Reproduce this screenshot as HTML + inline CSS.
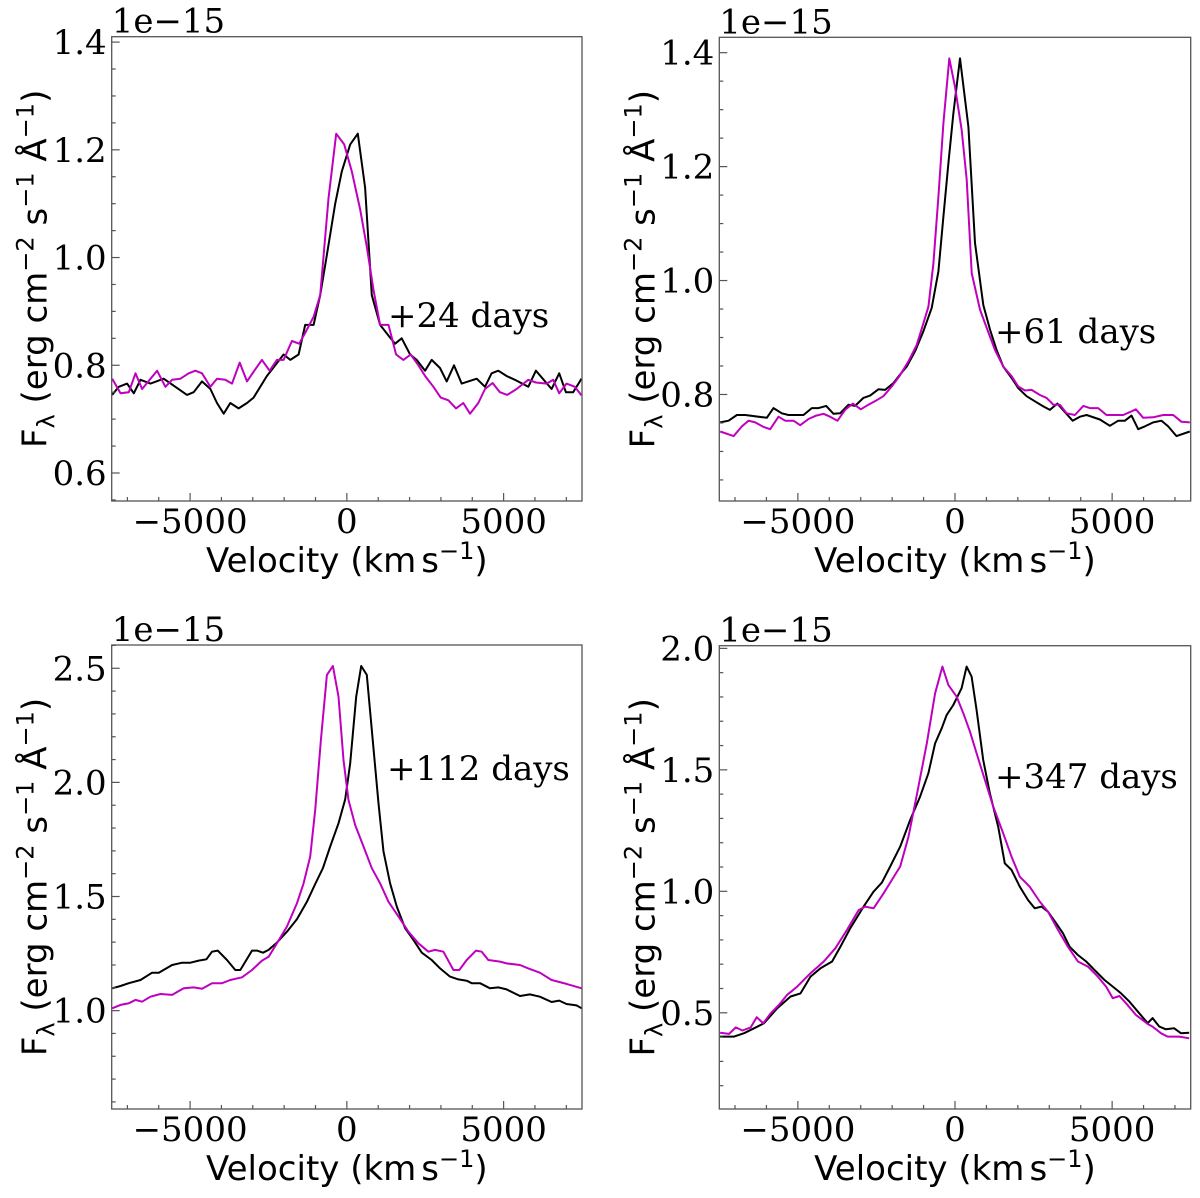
<!DOCTYPE html>
<html><head><meta charset="utf-8">
<style>
html,body{margin:0;padding:0;background:#fff;}
svg{display:block;}
.tick{font-family:"DejaVu Serif","Liberation Serif",serif;font-size:34px;fill:#000;}
.lab{font-family:"DejaVu Sans","Liberation Sans",sans-serif;font-size:34px;fill:#000;}
.ann{font-family:"DejaVu Serif","Liberation Serif",serif;font-size:34px;fill:#000;}
</style></head>
<body>
<svg id="fig" width="1200" height="1198" viewBox="0 0 1200 1198" xmlns="http://www.w3.org/2000/svg"></svg>
<script>
// ---- Panel 1 (+24 days) ----
const p1BlackV=[-7485,-7273,-7008,-6795,-6583,-6264,-5840,-5097,-4884,-4619,-4353,-4141,-3929,-3716,-3451,-3186,-2973,-2549,-2018,-1805,-1540,-1328,-1062,-850,-637,-372,-160,106,350,583,796,1061,1327,1539,1751,2017,2229,2495,2707,2972,3185,3418,3662,4140,4406,4618,4830,5096,5361,5786,6030,6529,6773,6985,7219,7485];
const p1BlackF=[0.745,0.76,0.766,0.748,0.773,0.766,0.775,0.745,0.75,0.77,0.756,0.73,0.71,0.73,0.72,0.73,0.74,0.78,0.82,0.81,0.82,0.875,0.875,0.93,1.005,1.1,1.16,1.21,1.23,1.13,0.93,0.875,0.855,0.84,0.85,0.82,0.81,0.79,0.81,0.795,0.77,0.80,0.766,0.775,0.76,0.785,0.79,0.78,0.773,0.76,0.79,0.756,0.785,0.75,0.75,0.775];
const p1MagV=[-7485,-7220,-6955,-6742,-6530,-6052,-5787,-5574,-5309,-5043,-4831,-4619,-4353,-4141,-3876,-3663,-3419,-3186,-2952,-2708,-2464,-2230,-2018,-1752,-1519,-1328,-1062,-850,-584,-340,-86,159,424,637,849,1061,1327,1571,1804,2038,2282,2495,2760,2994,3238,3482,3715,3928,4193,4406,4650,4883,5117,5414,5786,6030,6370,6582,6773,7007,7272,7485];
const p1MagF=[0.775,0.748,0.75,0.785,0.756,0.79,0.76,0.773,0.775,0.785,0.79,0.785,0.76,0.775,0.773,0.766,0.805,0.77,0.79,0.81,0.79,0.81,0.81,0.845,0.84,0.86,0.89,0.93,1.11,1.23,1.21,1.16,1.09,1.02,0.94,0.875,0.875,0.82,0.81,0.82,0.80,0.78,0.76,0.74,0.735,0.72,0.73,0.71,0.73,0.756,0.767,0.75,0.745,0.756,0.773,0.768,0.766,0.773,0.748,0.766,0.76,0.744];
// ---- Panel 2 (+61 days) ----
const p2BlackV=[-7470,-7205,-6940,-6675,-5987,-5775,-5510,-5298,-4821,-4556,-4344,-4100,-3867,-3655,-3390,-3178,-2914,-2702,-2437,-2225,-1960,-1748,-1536,-1271,-1006,-741,-529,-370,-211,-52,160,425,637,902,1113,1325,1537,1802,2014,2279,2544,2809,3021,3254,3498,3741,3975,4187,4610,4928,5193,5405,5617,5829,6041,6306,6571,6783,7048,7472];
const p2BlackF=[0.751,0.754,0.764,0.764,0.759,0.776,0.767,0.764,0.764,0.776,0.776,0.780,0.766,0.767,0.782,0.780,0.794,0.798,0.809,0.808,0.820,0.835,0.849,0.876,0.911,0.952,1.016,1.112,1.206,1.294,1.390,1.270,1.066,0.957,0.914,0.878,0.849,0.829,0.811,0.797,0.788,0.779,0.773,0.784,0.769,0.754,0.761,0.764,0.756,0.745,0.754,0.754,0.763,0.739,0.744,0.751,0.754,0.744,0.727,0.735];
const p2MagV=[-7470,-7046,-6781,-6570,-6357,-6093,-5881,-5616,-5404,-5139,-4927,-4662,-4418,-4185,-3973,-3740,-3496,-3253,-2998,-2755,-2490,-2278,-2013,-1769,-1483,-1218,-1006,-847,-688,-529,-370,-180,0,213,372,531,796,1029,1272,1537,1802,2014,2226,2438,2703,2915,3127,3339,3551,3816,4081,4292,4557,4822,5034,5352,5564,5755,5988,6306,6624,6942,7207,7472];
const p2MagF=[0.735,0.727,0.744,0.754,0.751,0.743,0.739,0.761,0.754,0.754,0.746,0.757,0.763,0.766,0.761,0.754,0.773,0.784,0.774,0.782,0.790,0.797,0.814,0.832,0.858,0.887,0.925,0.954,1.030,1.147,1.276,1.390,1.340,1.264,1.177,1.013,0.949,0.914,0.878,0.849,0.832,0.814,0.807,0.808,0.799,0.794,0.782,0.782,0.767,0.764,0.780,0.776,0.776,0.764,0.764,0.764,0.769,0.774,0.759,0.760,0.764,0.764,0.752,0.751];
// ---- Panel 3 (+112 days) ----
const p3BlackV=[-7485,-7220,-6954,-6583,-6211,-5999,-5574,-5255,-4990,-4725,-4480,-4300,-4119,-3822,-3557,-3397,-3026,-2867,-2675,-2495,-2230,-1911,-1593,-1274,-1009,-764,-531,-265,-53,106,297,457,637,796,1009,1168,1380,1593,1858,2123,2389,2707,2973,3291,3557,3822,3981,4247,4565,4831,5096,5521,5839,6158,6529,6774,7007,7326,7490];
const p3BlackF=[1.098,1.108,1.120,1.134,1.166,1.166,1.200,1.210,1.210,1.219,1.225,1.258,1.263,1.222,1.178,1.178,1.263,1.263,1.254,1.266,1.298,1.346,1.400,1.477,1.555,1.624,1.719,1.821,1.926,2.084,2.376,2.510,2.471,2.230,1.908,1.697,1.558,1.456,1.361,1.310,1.254,1.222,1.185,1.149,1.137,1.131,1.120,1.120,1.098,1.102,1.093,1.064,1.071,1.061,1.038,1.044,1.029,1.023,1.010];
const p3MagV=[-7485,-7220,-6954,-6742,-6530,-6264,-5946,-5574,-5202,-4884,-4618,-4300,-3981,-3716,-3344,-3026,-2707,-2495,-2230,-1911,-1593,-1380,-1168,-1009,-828,-637,-446,-265,-106,53,265,531,796,1062,1327,1646,1964,2283,2601,2814,3079,3397,3588,3822,4119,4300,4512,4884,5096,5521,5786,6158,6529,7007,7490];
const p3MagF=[1.010,1.025,1.032,1.047,1.039,1.061,1.073,1.069,1.098,1.102,1.096,1.120,1.120,1.134,1.146,1.178,1.219,1.236,1.295,1.368,1.470,1.558,1.675,1.879,2.186,2.471,2.510,2.376,2.098,1.923,1.813,1.719,1.624,1.558,1.477,1.412,1.346,1.295,1.258,1.266,1.258,1.178,1.178,1.222,1.263,1.258,1.222,1.215,1.207,1.200,1.185,1.166,1.134,1.117,1.098];
// ---- Panel 4 (+347 days) ----
const p4BlackV=[-7473,-7029,-6712,-6395,-6078,-5655,-5232,-4915,-4598,-4281,-3911,-3647,-3330,-2907,-2590,-2325,-2061,-1744,-1427,-1110,-846,-634,-423,-264,-53,211,370,529,687,898,1110,1374,1585,1797,2061,2325,2537,2748,2960,3224,3435,3647,3911,4175,4439,4757,5021,5285,5549,5866,6131,6289,6500,6712,6976,7188,7452];
const p4BlackF=[0.402,0.402,0.416,0.436,0.457,0.519,0.567,0.580,0.649,0.683,0.711,0.772,0.848,0.937,0.999,1.036,1.102,1.184,1.294,1.390,1.486,1.609,1.671,1.726,1.767,1.836,1.925,1.884,1.746,1.541,1.403,1.266,1.115,1.088,1.019,0.964,0.930,0.937,0.916,0.868,0.827,0.772,0.738,0.711,0.676,0.635,0.608,0.580,0.546,0.498,0.457,0.478,0.443,0.432,0.436,0.416,0.418];
const p4MagV=[-7473,-7188,-6976,-6765,-6501,-6310,-6099,-5866,-5602,-5338,-5021,-4598,-4175,-3805,-3435,-3065,-2854,-2590,-2273,-2008,-1744,-1480,-1216,-898,-634,-402,-211,53,264,476,687,951,1216,1533,1797,2061,2378,2695,2960,3277,3594,3911,4228,4545,4809,5021,5232,5444,5761,6131,6289,6553,6765,7135,7452];
const p4MagF=[0.418,0.413,0.440,0.427,0.440,0.482,0.457,0.498,0.532,0.574,0.608,0.663,0.711,0.766,0.841,0.923,0.937,0.930,0.992,1.047,1.102,1.225,1.397,1.609,1.815,1.925,1.849,1.801,1.733,1.657,1.568,1.458,1.349,1.239,1.143,1.060,1.019,0.958,0.916,0.841,0.772,0.711,0.690,0.649,0.608,0.560,0.569,0.539,0.491,0.454,0.443,0.416,0.402,0.402,0.395];
// tick labels
const xTicks=[-5000,0,5000];
const p1YTicks=[0.6,0.8,1.0,1.2,1.4];
const p2YTicks=[0.8,1.0,1.2,1.4];
const p3YTicks=[1.0,1.5,2.0,2.5];
const p4YTicks=[0.5,1.0,1.5,2.0];
const labels=["+24 days","+61 days","+112 days","+347 days"];

const NS="http://www.w3.org/2000/svg";
const svg=document.getElementById('fig');
function mk(tag,attrs,parent){const e=document.createElementNS(NS,tag);for(const k in attrs)e.setAttribute(k,attrs[k]);(parent||svg).appendChild(e);return e;}

const panels=[
 {box:[111.7,36.7,582,501],y:[0.548,1.41],yt:p1YTicks,minor:0.05,series:[[p1BlackV,p1BlackF],[p1MagV,p1MagF]],lab:labels[0],lx:388,ly:327,name:'panel-24-days'},
 {box:[719.3,37.3,1190.7,501],y:[0.613,1.427],yt:p2YTicks,minor:0.05,series:[[p2BlackV,p2BlackF],[p2MagV,p2MagF]],lab:labels[1],lx:995,ly:343,name:'panel-61-days'},
 {box:[111.7,645,582,1109],y:[0.569,2.602],yt:p3YTicks,minor:0.1,series:[[p3BlackV,p3BlackF],[p3MagV,p3MagF]],lab:labels[2],lx:387,ly:780,name:'panel-112-days'},
 {box:[719.3,645.7,1190.7,1109],y:[0.104,2.011],yt:p4YTicks,minor:0.1,series:[[p4BlackV,p4BlackF],[p4MagV,p4MagF]],lab:labels[3],lx:995,ly:788,name:'panel-347-days'}
];
const colors=['#000000','#bf00bf'];

panels.forEach((p,pi)=>{
 const [L,T,R,B]=p.box;
 const g=mk('g',{});
 
 
 const sx=v=>L+(v+7500)/15000*(R-L);
 const sy=f=>B-(f-p.y[0])/(p.y[1]-p.y[0])*(B-T);
 const cid='clip'+pi;
 const cp=mk('clipPath',{id:cid},g);mk('rect',{x:L,y:T,width:R-L,height:B-T},cp);
 p.series.forEach((s,si)=>{
  const d=s[0].map((v,i)=>(i?'L':'M')+sx(v).toFixed(1)+' '+sy(s[1][i]).toFixed(1)).join(' ');
  const path=mk('path',{d:d,fill:'none',stroke:colors[si],'stroke-width':2,'stroke-linejoin':'round','clip-path':'url(#'+cid+')'},g);
  
  
 });
 const frame=mk('rect',{x:L,y:T,width:R-L,height:B-T,fill:'none',stroke:'#555','stroke-width':1.3},g);
 
 
 for(let v=-7000;v<=7000;v+=1000){
  const major=v%5000===0;
  mk('line',{x1:sx(v),x2:sx(v),y1:B,y2:B-(major?8:4),stroke:'#555','stroke-width':1.2},g);
 }
 xTicks.forEach(v=>{
  const t=mk('text',{x:sx(v),y:B+32,'text-anchor':'middle',class:'tick'},g);
  t.textContent=(v<0?'\u2212':'')+Math.abs(v);
  
  
 });
 const n0=Math.ceil(p.y[0]/p.minor-1e-6),n1=Math.floor(p.y[1]/p.minor+1e-6);
 for(let n=n0;n<=n1;n++){
  const f=n*p.minor;
  const major=p.yt.some(t=>Math.abs(t-f)<1e-6);
  mk('line',{x1:L,x2:L+(major?8:4),y1:sy(f),y2:sy(f),stroke:'#555','stroke-width':1.2},g);
 }
 p.yt.forEach(f=>{
  const t=mk('text',{x:L-5,y:sy(f)+12,'text-anchor':'end',class:'tick'},g);
  t.textContent=f.toFixed(1);
  
  
 });
 const off=mk('text',{x:L,y:T-4,class:'tick'},g);
 off.textContent='1e\u221215';
 
 
 const xl=mk('text',{x:(L+R)/2,y:B+71,'text-anchor':'middle',class:'lab'},g);
 xl.innerHTML='Velocity (km<tspan dx="5">s</tspan><tspan dy="-13" font-size="24">\u22121</tspan><tspan dy="13">)</tspan>';
 
 
 const cx=L-65,cy=(T+B)/2;
 const yl=mk('text',{x:cx,y:cy,'text-anchor':'middle',class:'lab',transform:'rotate(-90 '+cx+' '+cy+')'},g);
 yl.innerHTML='F<tspan dy="8" font-size="24">\u03bb</tspan><tspan dy="-8"> (erg cm</tspan><tspan dy="-13" font-size="24">\u22122</tspan><tspan dy="13"> s</tspan><tspan dy="-13" font-size="24">\u22121</tspan><tspan dy="13"> \u00c5</tspan><tspan dy="-13" font-size="24">\u22121</tspan><tspan dy="13">)</tspan>';
 
 
 const an=mk('text',{x:p.lx,y:p.ly,class:'ann'},g);
 an.textContent=p.lab;
 
 
});
</script>
</body></html>
